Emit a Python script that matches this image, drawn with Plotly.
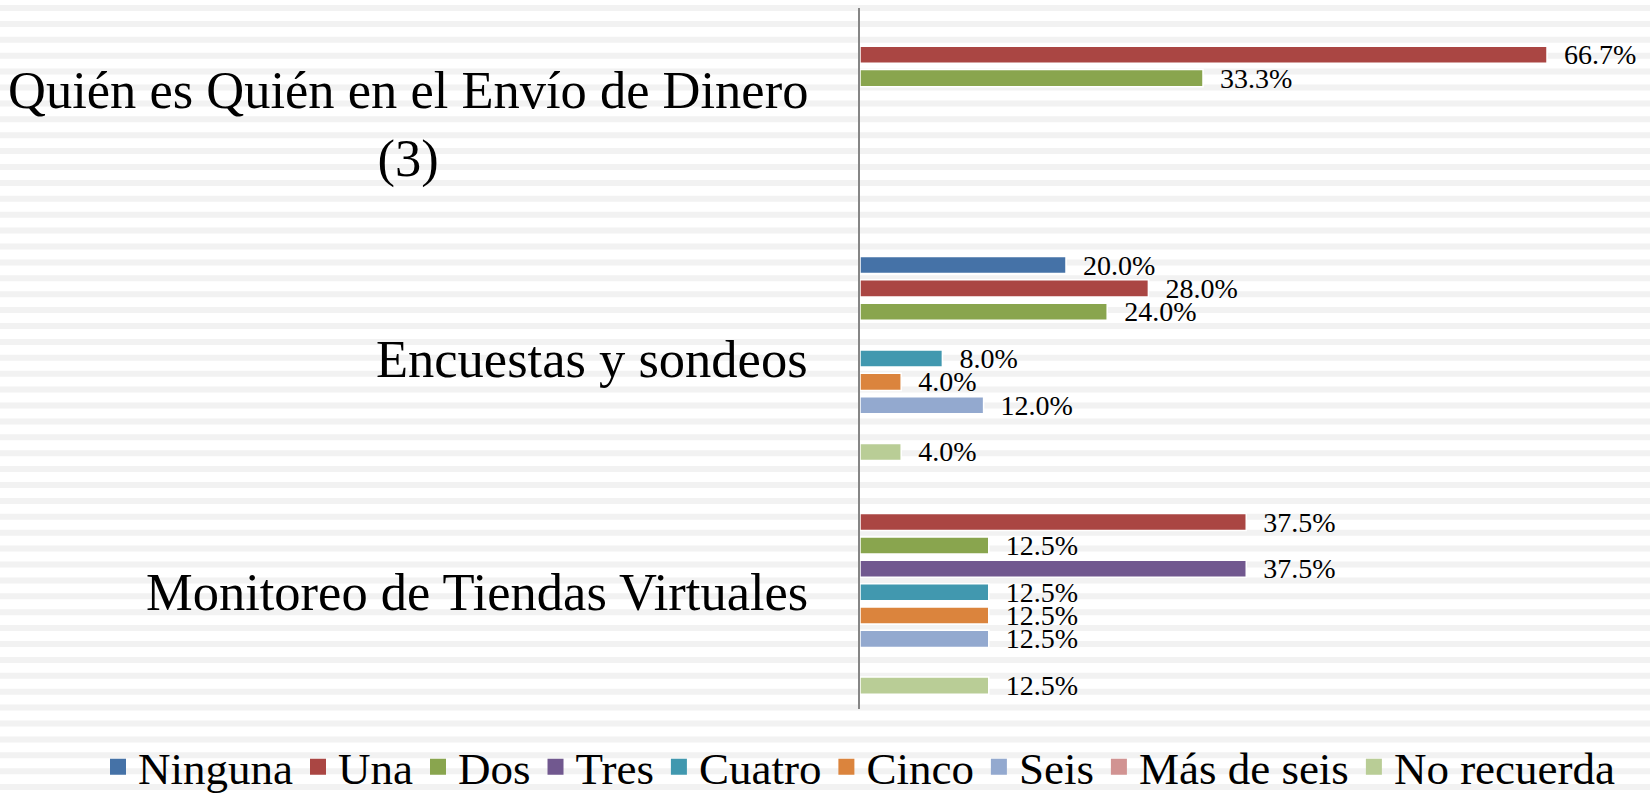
import plotly.graph_objects as go

categories = ["Quién es Quién en el Envío de Dinero (3)", "Encuestas y sondeos", "Monitoreo de Tiendas Virtuales"]
category_labels = ["Quién es Quién en el Envío de Dinero<br>(3)", "Encuestas y sondeos", "Monitoreo de Tiendas Virtuales"]

series_names = ["Ninguna", "Una", "Dos", "Tres", "Cuatro", "Cinco", "Seis", "Más de seis", "No recuerda"]
ninguna = [None, 20.0, None]
una = [66.7, 28.0, 37.5]
dos = [33.3, 24.0, 12.5]
tres = [None, None, 37.5]
cuatro = [None, 8.0, 12.5]
cinco = [None, 4.0, 12.5]
seis = [None, 12.0, 12.5]
mas_de_seis = [None, None, None]
no_recuerda = [None, 4.0, 12.5]
series_values = [ninguna, una, dos, tres, cuatro, cinco, seis, mas_de_seis, no_recuerda]

colors = ["#4572A7", "#AA4643", "#89A54E", "#71588F", "#4198AF", "#DB843D", "#93A9CF", "#D19392", "#B9CD96"]

W, H = 1650, 794
ml, mr, mt, mb = 860, 69, 8, 85
pw = W - ml - mr
ph = H - mt - mb

FONT = "Liberation Serif"

fig = go.Figure()
for name, vals, col in zip(series_names, series_values, colors):
    fig.add_trace(go.Bar(
        name=name, y=categories, x=vals, orientation="h",
        marker=dict(color=col, line=dict(color="white", width=1.5)),
        texttemplate="\u00a0\u00a0%{x:.1f}%", textposition="outside",
        textfont=dict(family=FONT, size=28, color="black"),
        cliponaxis=False, constraintext="none", showlegend=False,
    ))

# legend entries with bigger square keys
for name, col in zip(series_names, colors):
    fig.add_trace(go.Scatter(
        name=name, x=[None], y=[None], mode="markers",
        marker=dict(symbol="square", size=16, color=col),
    ))

# striped background
shapes = []
y = 5
while y < H:
    shapes.append(dict(
        type="rect", xref="paper", yref="paper", layer="below",
        x0=-ml / pw, x1=(W - ml) / pw,
        y0=(H - mb - y - 6) / ph, y1=(H - mb - y) / ph,
        fillcolor="#F2F2F2", line=dict(width=0),
    ))
    y += 15.9

annotations = []
for cat, lab in zip(categories, category_labels):
    annotations.append(dict(
        x=-50 / pw, xref="paper", y=cat, yref="y", text=lab,
        xanchor="right", yanchor="middle", align="center", showarrow=False,
        font=dict(family=FONT, size=52.5, color="black"),
    ))

fig.update_layout(
    width=W, height=H,
    margin=dict(l=ml, r=mr, t=mt, b=mb, autoexpand=False),
    paper_bgcolor="white", plot_bgcolor="rgba(0,0,0,0)",
    barmode="group", bargap=0.1, bargroupgap=0.27,
    shapes=shapes, annotations=annotations,
    font=dict(family=FONT, color="black"),
    xaxis=dict(range=[0, 70], visible=False),
    yaxis=dict(range=[2.5, -0.5], showticklabels=False, showgrid=False, zeroline=False,
               showline=True, linecolor="#868686", linewidth=1.5, ticks=""),
    legend=dict(orientation="h", x=(98 - ml) / pw, xanchor="left",
                y=-(767 - (H - mb)) / ph, yanchor="middle",
                font=dict(family=FONT, size=45), bgcolor="rgba(0,0,0,0)",
                itemwidth=30, traceorder="normal"),
    showlegend=True,
)

fig.write_html("out.html", config={"displayModeBar": False},
               post_script="document.body.style.margin='0';")
